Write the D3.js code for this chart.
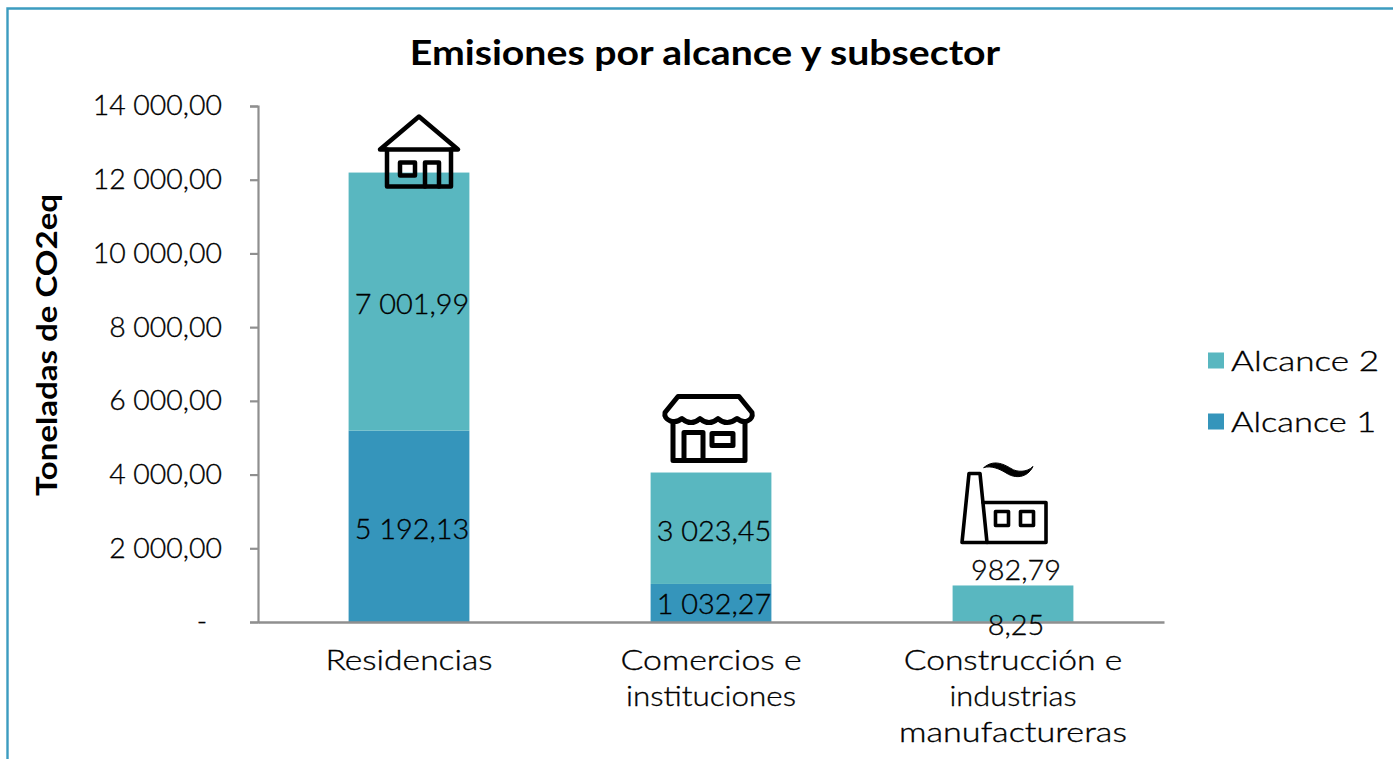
<!DOCTYPE html>
<html><head><meta charset="utf-8">
<script src="https://cdn.jsdelivr.net/npm/d3@7"></script>
<style>html,body{margin:0;padding:0;background:#fff}svg{display:block}text{font-family:Lato,sans-serif;fill:#000}text.lt{stroke:#000;stroke-width:.35px}</style>
</head><body><svg id="c" width="1393" height="759"></svg>
<script>
const categories=[["Residencias"],["Comercios e","instituciones"],["Construcción e","industrias","manufactureras"]];
const categoryKeys=["Residencias","Comercios","Construccion"];
const alcance1=[5192.13,1032.27,8.25];
const alcance2=[7001.99,3023.45,982.79];
const alcance1Labels=["5 192,13","1 032,27","8,25"];
const alcance2Labels=["7 001,99","3 023,45","982,79"];
const yTicks=[0,2000,4000,6000,8000,10000,12000,14000];
const yTickLabels=["-","2 000,00","4 000,00","6 000,00","8 000,00","10 000,00","12 000,00","14 000,00"];
const legendItems=["Alcance 2","Alcance 1"];
const colors={a1:"#3595bb",a2:"#59b7c0"};
const lineStretch=[[1.2],[1.21,1.12],[1.2,1.1,1.22]];
const legendStretch=[1.255,1.23];

const svg=d3.select("#c");
const stretch=(sel,f)=>sel.each(function(){
  const l=this.getComputedTextLength();
  d3.select(this).attr("textLength",l*f).attr("lengthAdjust","spacingAndGlyphs");
});
svg.append("path").attr("d","M7.5,759V8.5H1393").attr("fill","none").attr("stroke","#3c9cc0").attr("stroke-width",2.4);
const x=d3.scaleBand().domain(categoryKeys).range([258,1164]).paddingInner(0.6).paddingOuter(0.3);
const band=d3.scaleBand().domain(categoryKeys).range([258,1164]);
const y=d3.scaleLinear().domain([0,14000]).range([622,106]);

svg.append("text").attr("x",705).attr("y",65).attr("text-anchor","middle").attr("font-size",33.5).attr("font-weight",700).text("Emisiones por alcance y subsector").call(stretch,1.17);
svg.append("text").attr("transform","translate(57,345) rotate(-90)").attr("text-anchor","middle").attr("font-size",28).attr("font-weight",700).text("Toneladas de CO2eq").call(stretch,1.18);

categoryKeys.forEach((k,i)=>{
  svg.append("rect").attr("x",x(k)).attr("width",x.bandwidth()).attr("y",y(alcance1[i])).attr("height",y(0)-y(alcance1[i])).attr("fill",colors.a1);
  svg.append("rect").attr("x",x(k)).attr("width",x.bandwidth()).attr("y",y(alcance1[i]+alcance2[i])).attr("height",y(alcance1[i])-y(alcance1[i]+alcance2[i])).attr("fill",colors.a2);
});

const yAxis=d3.axisLeft(y).tickValues(yTicks).tickFormat((d,i)=>yTickLabels[i]).tickSize(8).tickPadding(28);
const gy=svg.append("g").attr("transform","translate(258,0)").call(yAxis);
gy.select(".domain").attr("stroke","#8f8f8f").attr("stroke-width",2.2);
gy.selectAll(".tick line").attr("stroke","#8f8f8f").attr("stroke-width",2.2);
gy.selectAll("text").attr("class","lt").attr("font-size",28).attr("font-weight",300).style("font-family","Lato,sans-serif").attr("fill","#000");
gy.selectAll("text").filter((d)=>d===0).attr("dx",-15);
gy.selectAll("text").filter((d)=>d!==0).call(stretch,1.015);

const xAxis=d3.axisBottom(band).tickSize(0).tickFormat("");
const gx=svg.append("g").attr("transform","translate(0,622)").call(xAxis);
gx.select(".domain").attr("stroke","#8f8f8f").attr("stroke-width",2.4);

categoryKeys.forEach((k,i)=>{
  categories[i].forEach((s,j)=>{
    svg.append("text").attr("class","lt").attr("text-anchor","middle").attr("font-size",28).attr("font-weight",300).attr("x",band(k)+band.bandwidth()/2).attr("y",669.5+j*36.3).text(s).call(stretch,lineStretch[i][j]);
  });
});

const lab=(v,xx,yy)=>svg.append("text").attr("class","lt").attr("x",xx).attr("y",yy).attr("text-anchor","middle").attr("font-size",28).attr("font-weight",300).text(v).call(stretch,1.03);
const cx=k=>x(k)+x.bandwidth()/2;
categoryKeys.forEach((k,i)=>{
  lab(alcance2Labels[i],cx(k)+3,y(alcance1[i]+alcance2[i]/2)+10+[2,3,-34][i]);
  lab(alcance1Labels[i],cx(k)+3,y(alcance1[i]/2)+10+[3,1,3][i]);
});

const ic=svg.append("g").attr("fill","none").attr("stroke","#000").attr("stroke-width",4.5).attr("stroke-linejoin","round").attr("stroke-linecap","round");
const place=i=>ic.append("g").attr("transform",`translate(${cx(categoryKeys[i])},${y(alcance1[i]+alcance2[i])})`);
const h=place(0);
h.append("path").attr("d","M-29,-23L10,-56L49,-23Z");
h.append("path").attr("d","M-22,-23V14H42V-23");
h.append("rect").attr("x",-9).attr("y",-10).attr("width",15).attr("height",13);
h.append("path").attr("d","M16,14V-10H30V14");
const s=place(1);
s.attr("stroke-width",5);
s.append("path").attr("d","M-33,-76H28L41,-60C43,-52 33,-48 26,-54Q16,-46 7,-54Q-2,-46 -11,-54Q-20,-46 -29,-54C-36,-48 -48,-52 -46,-60Z");
s.append("path").attr("d","M-38,-50V-12H34V-50");
s.append("path").attr("d","M-27,-12V-40H-8V-12");
s.append("rect").attr("x",1).attr("y",-39).attr("width",21).attr("height",12);
const f=place(2);
f.attr("stroke-width",3.6);
f.append("path").attr("d","M-51,-43L-44,-112H-33L-26,-43Z");
f.append("path").attr("d","M-30,-83H33V-43H-26");
f.append("rect").attr("x",-17.5).attr("y",-74).attr("width",13).attr("height",14);
f.append("rect").attr("x",7.5).attr("y",-74).attr("width",13).attr("height",14);
f.append("path").attr("d","M-29,-118C-20,-126 -10,-122 -2,-117C4,-113 14,-113 20,-119C14,-107 2,-107 -6,-112C-14,-117 -22,-120 -29,-118Z").attr("fill","#000").attr("stroke-width",1);

const ly=d3.scaleBand().domain(legendItems).range([330,452]);
legendItems.forEach((n,i)=>{
  const c=ly(n)+ly.bandwidth()/2;
  svg.append("rect").attr("x",1208).attr("y",c-8).attr("width",16).attr("height",16).attr("fill",i==0?colors.a2:colors.a1);
  svg.append("text").attr("class","lt").attr("x",1231).attr("y",c+10).attr("font-size",28).attr("font-weight",300).text(n).call(stretch,legendStretch[i]);
});
</script></body></html>
